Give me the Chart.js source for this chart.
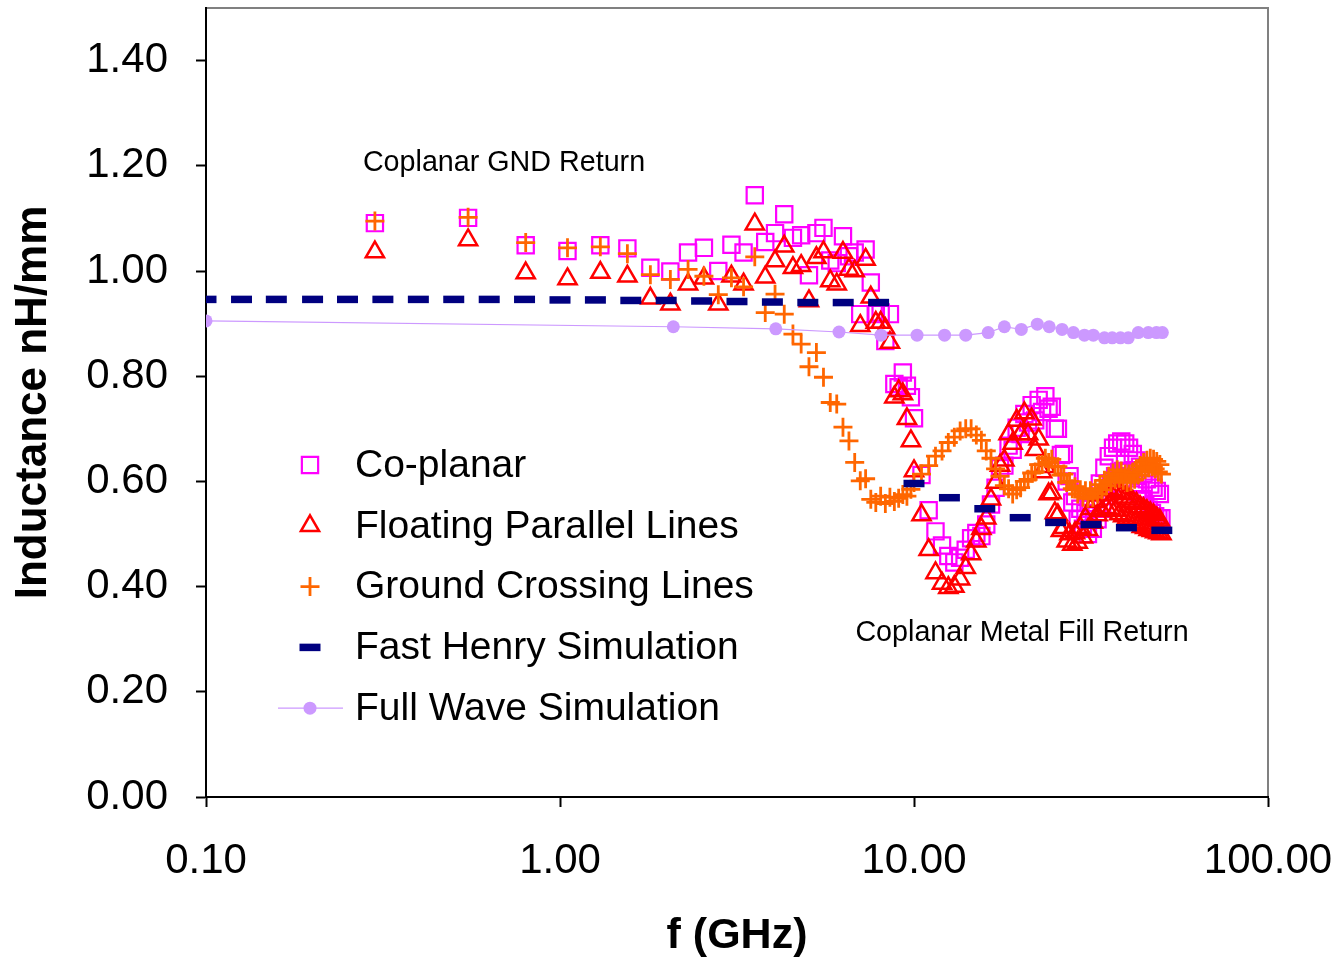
<!DOCTYPE html>
<html>
<head>
<meta charset="utf-8">
<script src="https://cdn.jsdelivr.net/npm/chart.js@4.4.1/dist/chart.umd.min.js"></script>
<style>
  html, body { margin: 0; padding: 0; background: #fff; }
  canvas { display: block; }
</style>
</head>
<body>
<canvas id="chart" width="1338" height="958"></canvas>
<script>
// Measured frequency points (GHz), shared by the three measured structures
const freq = [
  0.3, 0.55, 0.8, 1.05, 1.3, 1.55, 1.8, 2.05, 2.3, 2.55, 2.8, 3.05, 3.3, 3.55, 3.8,
  4.05, 4.3, 4.55, 4.8, 5.05, 5.3, 5.55, 5.8, 6.05, 6.3, 6.55, 6.8, 7.05, 7.3, 7.55,
  7.8, 8.05, 8.3, 8.55, 8.8, 9.05, 9.3, 9.55, 9.8,
  10, 10.5, 11, 11.5, 12, 12.5, 13, 13.5, 14, 14.5, 15, 15.5, 16, 16.5, 17, 17.5,
  18, 18.5, 19, 19.5, 20, 20.5, 21, 21.5, 22, 22.5, 23, 23.5, 24, 24.5, 25, 25.5,
  26, 26.5, 27, 27.5, 28, 28.5, 29, 29.5, 30, 30.5, 31, 31.5, 32, 32.5, 33, 33.5,
  34, 34.5, 35, 35.5, 36, 36.5, 37, 37.5, 38, 38.5, 39, 39.5, 40, 40.5, 41, 41.5,
  42, 42.5, 43, 43.5, 44, 44.5, 45, 45.5, 46, 46.5, 47, 47.5, 48, 48.5, 49, 49.5, 50
];

// Inductance nH/mm
const coplanar = [
  1.091, 1.101, 1.049, 1.038, 1.049, 1.043, 1.006, 0.999, 1.035, 1.044, 1.000, 1.050, 1.035, 1.144, 1.055,
  1.072, 1.108, 1.063, 1.068, 0.992, 1.072, 1.082, 1.020, 1.015, 1.066, 1.028, 1.035, 0.918, 1.041, 0.978,
  0.918, 0.921, 0.867, 0.918, 0.785, 0.779, 0.807, 0.782, 0.760,
  0.720, 0.612, 0.545, 0.505, 0.478, 0.458, 0.446, 0.455, 0.470, 0.492, 0.502, 0.496, 0.518, 0.556, 0.588, 0.625,
  0.630, 0.668, 0.660, 0.702, 0.690, 0.728, 0.712, 0.745, 0.716, 0.755, 0.732, 0.762, 0.738, 0.742, 0.700, 0.700,
  0.650, 0.652, 0.600, 0.610, 0.560, 0.572, 0.528, 0.548, 0.510, 0.540, 0.500, 0.548, 0.510, 0.566, 0.528, 0.596,
  0.548, 0.626, 0.572, 0.648, 0.596, 0.664, 0.610, 0.672, 0.618, 0.676, 0.620, 0.672, 0.618, 0.664, 0.606, 0.652,
  0.594, 0.640, 0.580, 0.628, 0.566, 0.614, 0.554, 0.604, 0.546, 0.594, 0.540, 0.588, 0.534, 0.582, 0.530, 0.576, 0.530
];

const floating = [
  1.036, 1.059, 0.996, 0.985, 0.997, 0.990, 0.948, 0.937, 0.975, 0.986, 0.937, 0.990, 0.975, 1.089, 0.988,
  1.019, 1.047, 1.006, 1.010, 0.943, 1.025, 1.036, 0.981, 0.975, 1.035, 1.003, 1.000, 0.896, 1.022, 0.950,
  0.902, 0.902, 0.890, 0.864, 0.760, 0.772, 0.766, 0.719, 0.677,
  0.620, 0.536, 0.470, 0.426, 0.406, 0.398, 0.400, 0.414, 0.436, 0.462, 0.486, 0.510, 0.530, 0.566, 0.598, 0.630,
  0.640, 0.690, 0.672, 0.716, 0.690, 0.730, 0.690, 0.718, 0.660, 0.680, 0.618, 0.628, 0.576, 0.578, 0.540, 0.536,
  0.506, 0.512, 0.486, 0.500, 0.480, 0.502, 0.484, 0.512, 0.494, 0.530, 0.508, 0.548, 0.522, 0.562, 0.536, 0.574,
  0.544, 0.584, 0.550, 0.586, 0.548, 0.584, 0.544, 0.580, 0.538, 0.576, 0.534, 0.570, 0.530, 0.566, 0.526, 0.562,
  0.522, 0.558, 0.518, 0.552, 0.514, 0.548, 0.512, 0.544, 0.508, 0.540, 0.506, 0.536, 0.504, 0.530, 0.502, 0.526, 0.500
];

const crossing = [
  1.095, 1.102, 1.054, 1.044, 1.046, 1.033, 0.993, 0.984, 1.003, 0.990, 0.955, 0.987, 0.970, 1.027, 0.921,
  0.956, 0.918, 0.880, 0.861, 0.818, 0.845, 0.798, 0.750, 0.747, 0.703, 0.677, 0.636, 0.601, 0.605, 0.566,
  0.560, 0.572, 0.558, 0.570, 0.562, 0.568, 0.575, 0.572, 0.585,
  0.598, 0.614, 0.630, 0.648, 0.658, 0.674, 0.684, 0.696, 0.700, 0.700, 0.688, 0.678, 0.658, 0.644, 0.624, 0.610,
  0.592, 0.586, 0.576, 0.584, 0.588, 0.600, 0.604, 0.616, 0.618, 0.632, 0.632, 0.644, 0.636, 0.642, 0.628, 0.628,
  0.612, 0.614, 0.598, 0.600, 0.586, 0.590, 0.576, 0.584, 0.570, 0.582, 0.568, 0.582, 0.570, 0.586, 0.576, 0.594,
  0.584, 0.602, 0.592, 0.610, 0.598, 0.616, 0.604, 0.622, 0.606, 0.620, 0.602, 0.614, 0.598, 0.614, 0.600, 0.618,
  0.604, 0.624, 0.612, 0.630, 0.618, 0.636, 0.622, 0.640, 0.626, 0.644, 0.628, 0.642, 0.624, 0.638, 0.618, 0.632, 0.614
];

// Fast Henry simulation
const henryFreq = [
  0.1, 0.126, 0.158, 0.2, 0.251, 0.316, 0.398, 0.501, 0.631, 0.794,
  1.0, 1.259, 1.585, 1.995, 2.512, 3.162, 3.981, 5.012, 6.31, 7.943,
  10.0, 12.59, 15.85, 19.95, 25.12, 31.62, 39.81, 50.12
];
const henry = [
  0.946, 0.946, 0.946, 0.946, 0.946, 0.946, 0.946, 0.946, 0.946, 0.946,
  0.945, 0.945, 0.944, 0.944, 0.943, 0.942, 0.941, 0.940, 0.940, 0.940,
  0.596, 0.569, 0.548, 0.531, 0.522, 0.518, 0.512, 0.507
];

// Full wave simulation
const waveFreq = [
  0.1, 2.09, 4.07, 6.14, 8.07, 10.2, 12.2, 14.0, 16.2, 18.0, 20.1, 22.3, 24.1,
  26.2, 28.2, 30.3, 32.1, 34.5, 36.3, 38.3, 40.3, 43.0, 45.9, 48.4, 50.3
];
const wave = [
  0.905, 0.894, 0.890, 0.884, 0.878, 0.878, 0.878, 0.878, 0.883, 0.894, 0.889, 0.899, 0.894,
  0.889, 0.883, 0.878, 0.878, 0.873, 0.873, 0.873, 0.873, 0.883, 0.883, 0.883, 0.883
];

const seriesNames = ["Co-planar", "Floating Parallel Lines", "Ground Crossing Lines",
  "Fast Henry Simulation", "Full Wave Simulation"];
const xTicks = [0.1, 1, 10, 100];
const yTicks = [0, 0.2, 0.4, 0.6, 0.8, 1.0, 1.2, 1.4];
const notes = ["Coplanar GND Return", "Coplanar Metal Fill Return"];

const FONT = "'Liberation Sans', Arial, sans-serif";

function toPoints(xs, ys) {
  return xs.map((x, i) => ({ x: x, y: ys[i] }));
}

// plot frame: grey top/right border, drawn under the axes
const framePlugin = {
  id: "frame",
  beforeDraw(chart) {
    const { ctx, chartArea: a } = chart;
    ctx.save();
    ctx.strokeStyle = "#808080";
    ctx.lineWidth = 2;
    ctx.strokeRect(a.left, a.top, a.right - a.left, a.bottom - a.top);
    ctx.restore();
  }
};

// small marker drawer for the legend, same shapes as the datasets
function drawMarker(ctx, ds, x, y) {
  const r = ds.pointRadius;
  ctx.save();
  ctx.strokeStyle = ds.pointBorderColor;
  ctx.fillStyle = ds.pointBackgroundColor;
  ctx.lineWidth = ds.pointBorderWidth;
  ctx.beginPath();
  if (ds.pointStyle === "rect") {
    const s = r * Math.SQRT1_2;
    ctx.rect(x - s, y - s, 2 * s, 2 * s);
    ctx.stroke();
  } else if (ds.pointStyle === "triangle") {
    for (let k = 0; k < 3; k++) {
      const rad = k * 2 * Math.PI / 3;
      const px = x + Math.sin(rad) * r, py = y - Math.cos(rad) * r;
      if (k === 0) ctx.moveTo(px, py); else ctx.lineTo(px, py);
    }
    ctx.closePath();
    ctx.stroke();
  } else if (ds.pointStyle === "cross") {
    ctx.moveTo(x - r, y); ctx.lineTo(x + r, y);
    ctx.moveTo(x, y - r); ctx.lineTo(x, y + r);
    ctx.stroke();
  } else if (ds.pointStyle === "line") {
    ctx.moveTo(x - r, y); ctx.lineTo(x + r, y);
    ctx.stroke();
  } else {
    ctx.strokeStyle = ds.borderColor;
    ctx.lineWidth = ds.borderWidth;
    ctx.moveTo(x - 32, y); ctx.lineTo(x + 33, y);
    ctx.stroke();
    ctx.beginPath();
    ctx.arc(x, y, r, 0, Math.PI * 2);
    ctx.fill();
  }
  ctx.restore();
}

const legendPlugin = {
  id: "insideLegend",
  afterDraw(chart) {
    const ctx = chart.ctx;
    ctx.save();
    ctx.font = "39px " + FONT;
    ctx.fillStyle = "#000";
    ctx.textBaseline = "middle";
    chart.data.datasets.forEach((ds, i) => {
      const y = 465 + i * 60.8;
      drawMarker(ctx, ds, 310, y);
      ctx.fillText(ds.label, 355, y + 1);
    });
    ctx.restore();
  }
};

const notesPlugin = {
  id: "notes",
  afterDraw(chart) {
    const ctx = chart.ctx;
    ctx.save();
    ctx.font = "28.7px " + FONT;
    ctx.fillStyle = "#000";
    ctx.textAlign = "center";
    ctx.textBaseline = "middle";
    ctx.fillText(notes[0], 504, 163);
    ctx.fillText(notes[1], 1022, 633);
    ctx.restore();
  }
};

const ctx = document.getElementById("chart").getContext("2d");

new Chart(ctx, {
  type: "scatter",
  data: {
    datasets: [
      {
        label: seriesNames[0],
        data: toPoints(freq, coplanar),
        showLine: false,
        order: 5,
        pointStyle: "rect",
        pointRadius: 11.5,
        pointBorderWidth: 2.2,
        pointBorderColor: "#FF00FF",
        pointBackgroundColor: "rgba(0,0,0,0)",
        borderColor: "#FF00FF"
      },
      {
        label: seriesNames[1],
        data: toPoints(freq, floating),
        showLine: false,
        order: 4,
        pointStyle: "triangle",
        pointRadius: 10.5,
        pointBorderWidth: 2.5,
        pointBorderColor: "#FF0000",
        pointBackgroundColor: "rgba(0,0,0,0)",
        borderColor: "#FF0000"
      },
      {
        label: seriesNames[2],
        data: toPoints(freq, crossing),
        showLine: false,
        order: 3,
        pointStyle: "cross",
        pointRadius: 9.5,
        pointBorderWidth: 2.8,
        pointBorderColor: "#FF6600",
        pointBackgroundColor: "#FF6600",
        borderColor: "#FF6600"
      },
      {
        label: seriesNames[3],
        data: toPoints(henryFreq, henry),
        showLine: false,
        order: 2,
        pointStyle: "line",
        pointRadius: 10.5,
        pointBorderWidth: 7.5,
        pointBorderColor: "#000080",
        pointBackgroundColor: "#000080",
        borderColor: "#000080"
      },
      {
        label: seriesNames[4],
        data: toPoints(waveFreq, wave),
        showLine: true,
        order: 1,
        borderColor: "#CC99FF",
        borderWidth: 1.2,
        pointStyle: "circle",
        pointRadius: 6.5,
        pointBorderWidth: 0,
        pointBorderColor: "#CC99FF",
        pointBackgroundColor: "#CC99FF"
      }
    ]
  },
  options: {
    responsive: false,
    animation: false,
    events: [],
    // no auto padding: the marker overflow would push the plot top down
    layout: { autoPadding: false, padding: { left: 0, right: 70, top: 8, bottom: 0 } },
    plugins: {
      legend: { display: false },
      tooltip: { enabled: false }
    },
    scales: {
      x: {
        type: "logarithmic",
        min: 0.1,
        max: 100,
        afterBuildTicks: (s) => { s.ticks = xTicks.map(v => ({ value: v })); },
        afterFit: (s) => { s.height = 161; s.paddingLeft = 0; s.paddingRight = 0; },
        grid: { drawOnChartArea: false, drawTicks: true, tickLength: 10, tickWidth: 2, tickColor: "#000" },
        border: { display: true, color: "#000", width: 2 },
        ticks: {
          color: "#000",
          font: { family: FONT, size: 42 },
          padding: 29,
          maxRotation: 0,
          autoSkip: false,
          callback: (v) => Number(v).toFixed(2)
        },
        title: {
          display: true,
          text: "f (GHz)",
          color: "#000",
          font: { family: FONT, size: 43, weight: "bold", lineHeight: 1 },
          padding: { top: 0, bottom: 0 }
        }
      },
      y: {
        type: "linear",
        min: 0,
        max: 1.5,
        afterBuildTicks: (s) => { s.ticks = yTicks.map(v => ({ value: v })); },
        afterFit: (s) => { s.width = 206; s.paddingTop = 0; s.paddingBottom = 0; },
        grid: { drawOnChartArea: false, drawTicks: true, tickLength: 10, tickWidth: 2, tickColor: "#000" },
        border: { display: true, color: "#000", width: 2 },
        ticks: {
          color: "#000",
          font: { family: FONT, size: 42 },
          padding: 28,
          callback: (v) => Number(v).toFixed(2)
        },
        title: {
          display: true,
          text: "Inductance nH/mm",
          color: "#000",
          font: { family: FONT, size: 44, weight: "bold", lineHeight: 1 },
          padding: { top: 12, bottom: 0 }
        }
      }
    }
  },
  plugins: [framePlugin, legendPlugin, notesPlugin]
});
</script>
</body>
</html>
